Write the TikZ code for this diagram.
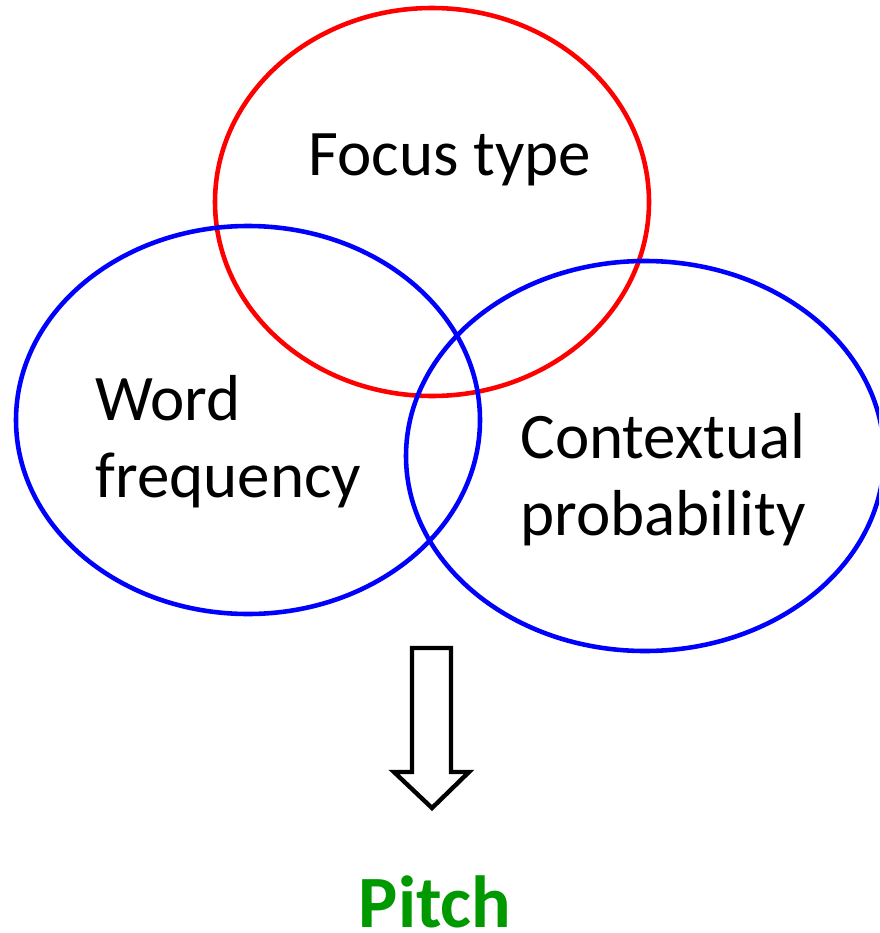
\documentclass[tikz,border=0pt]{standalone}
\usepackage{fontspec}
\setmainfont{Carlito}
\usetikzlibrary{positioning}
\definecolor{pitchgreen}{RGB}{0,153,0}
\tikzset{
  ring/.style={line width=2.6pt},
  lbl/.style={font=\fontsize{37}{44}\selectfont,align=left,inner sep=0pt},
  outcome/.style={font=\fontsize{42}{48}\selectfont\bfseries,text=pitchgreen,inner sep=0pt},
  bigarrow/.style={draw,line width=2.5pt,fill=white,miter limit=10},
}

\begin{document}
\begin{tikzpicture}[x=0.02cm,y=-0.02cm]
  \useasboundingbox (0,0) rectangle (879,933);
  \clip (0,0) rectangle (879,933);
  % the three factors
  \draw[ring,red]  (432,202) ellipse (217 and 194);
  \draw[ring,blue] (248,420) ellipse (232 and 194);
  \draw[ring,blue] (645,456) ellipse (239 and 195);
  \node[lbl] (focus) at (450,160) {Focus type};
  \node[lbl,anchor=west] (freq) at (95,442) {Word\\frequency};
  \node[lbl,anchor=west] (ctx) at (520,480) {Contextual\\probability};
  % outcome
  \draw[bigarrow] (412,648) -- (451,648) -- (451,772) -- (469,772)
    -- (432,808) -- (394,772) -- (412,772) -- cycle;
  \node[outcome] (pitch) at (435,902) {Pitch};
\end{tikzpicture}
\end{document}
